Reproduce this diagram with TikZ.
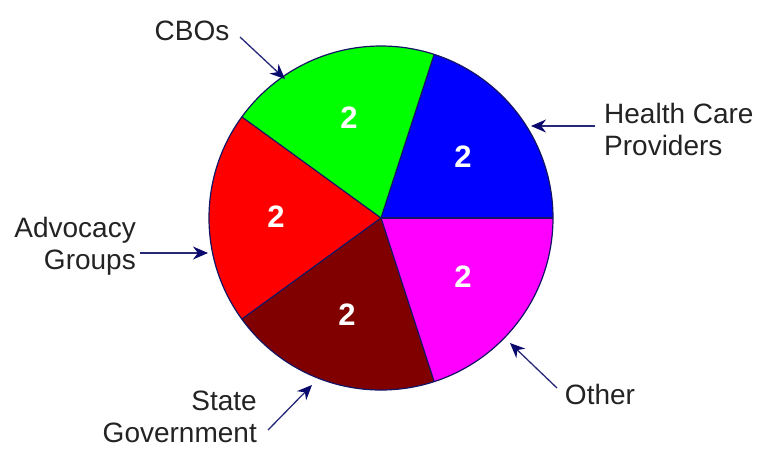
\documentclass[tikz,border=0pt]{standalone}
\usepackage{fontspec}
\setmainfont{Liberation Sans}
\usetikzlibrary{arrows.meta}
\definecolor{navyline}{RGB}{20,20,100}
\definecolor{arrowcol}{RGB}{40,40,120}
\definecolor{tipcol}{RGB}{10,10,110}
\definecolor{txt}{RGB}{35,35,35}
\definecolor{slblue}{RGB}{0,0,255}
\definecolor{slgreen}{RGB}{0,255,0}
\definecolor{slred}{RGB}{255,0,0}
\definecolor{slmaroon}{RGB}{128,0,0}
\definecolor{slmagenta}{RGB}{255,0,255}
\begin{document}
\begin{tikzpicture}[x=1pt,y=-1pt,
  slice/.style={draw=navyline,line width=1.2pt,line join=round},
  num/.style={text=white,font=\fontsize{31}{34}\selectfont\bfseries,inner sep=0pt},
  lbl/.style={text=txt,font=\fontsize{28}{32}\selectfont,inner sep=0pt},
  pointer/.style={draw=arrowcol,line width=1.3pt,-{Stealth[length=15pt,width=13pt,color=tipcol]}}]
\useasboundingbox (0,0) rectangle (758,448);
\def\R{172}
\coordinate (c) at (381,218);
\fill[slblue]    (c) -- ++(0:\R) arc[start angle=0,end angle=-72,radius=\R] -- cycle;
\fill[slgreen]   (c) -- ++(-72:\R) arc[start angle=-72,end angle=-144,radius=\R] -- cycle;
\fill[slred]     (c) -- ++(-144:\R) arc[start angle=-144,end angle=-216,radius=\R] -- cycle;
\fill[slmaroon]  (c) -- ++(-216:\R) arc[start angle=-216,end angle=-288,radius=\R] -- cycle;
\fill[slmagenta] (c) -- ++(-288:\R) arc[start angle=-288,end angle=-360,radius=\R] -- cycle;
\foreach \a in {0,-72,-144,-216,-288}{\draw[slice] (c) -- ++(\a:\R);}
\draw[slice] (c) circle[radius=\R];
% numbers
\node[num] (nblue) at (463,157) {2};
\node[num] (ngreen) at (349,118) {2};
\node[num] (nred) at (276,217) {2};
\node[num] (nmaroon) at (347,315) {2};
\node[num] (nmagenta) at (463,277) {2};
% labels
\node[lbl] (cbos) at (192,31) {CBOs};
\node[lbl,align=left,anchor=west] (hcp) at (604,129) {Health Care\\Providers};
\node[lbl,align=right,anchor=east] (adv) at (136,246) {Advocacy\\Groups};
\node[lbl,align=right,anchor=east] (state) at (257,417) {State\\Government};
\node[lbl] (other) at (600,394) {Other};
% arrow ends
\coordinate (cbosS) at (240,37);   \coordinate (cbosT) at (285,79);
\coordinate (hcpS) at (595,126);   \coordinate (hcpT) at (531,126);
\coordinate (advS) at (140,253);   \coordinate (advT) at (208,253);
\coordinate (stS) at (268,430);    \coordinate (stT) at (312,385);
\coordinate (otS) at (557,388);    \coordinate (otT) at (510,343);
\draw[pointer] (cbosS) -- (cbosT);
\draw[pointer] (hcpS) -- (hcpT);
\draw[pointer] (advS) -- (advT);
\draw[pointer] (stS) -- (stT);
\draw[pointer] (otS) -- (otT);
\end{tikzpicture}
\end{document}
